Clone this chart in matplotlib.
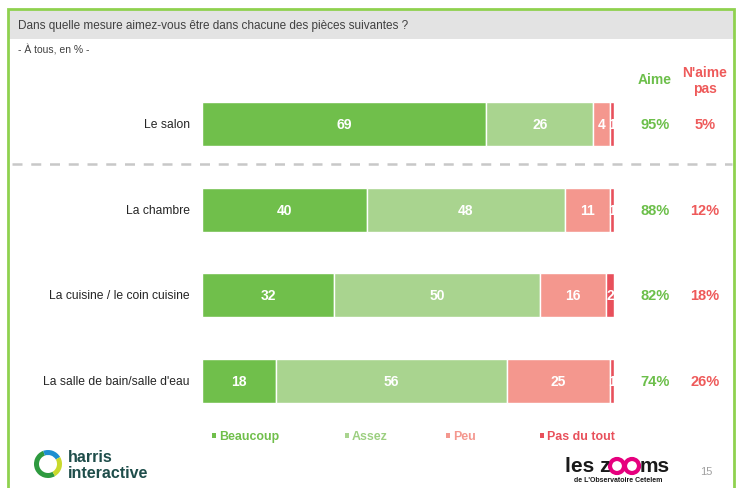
import numpy as np
import matplotlib.pyplot as plt
from matplotlib.patches import Rectangle, Wedge, Ellipse

plt.rcParams['font.family'] = ['Liberation Sans', 'DejaVu Sans']

categories = ['Le salon', 'La chambre', 'La cuisine / le coin cuisine',
              "La salle de bain/salle d'eau"]
beaucoup = [69, 40, 32, 18]
assez = [26, 48, 50, 56]
peu = [4, 11, 16, 25]
pas_du_tout = [1, 1, 2, 1]
aime = [95, 88, 82, 74]
naime_pas = [5, 12, 18, 26]
series_names = ['Beaucoup', 'Assez', 'Peu', 'Pas du tout']

colors = ['#70bf4b', '#a9d48f', '#f4978e', '#e8505b']
green_txt = '#6cbf4a'
red_txt = '#ee5a5a'

W, H = 737, 489
fig = plt.figure(figsize=(W / 100, H / 100), dpi=100)

# background axes in pixel coordinates for the frame and decorations
bg = fig.add_axes([0, 0, 1, 1])
bg.set_xlim(0, W)
bg.set_ylim(H, 0)
bg.axis('off')

bg.add_patch(Rectangle((9, 11), 725, 29, facecolor='#e3e3e3', edgecolor='none'))
bg.plot([8, 8, 734, 734], [H, 9.5, 9.5, H], color='#8fd14f', lw=2, solid_joinstyle='miter')
bg.text(18, 26, 'Dans quelle mesure aimez-vous être dans chacune des pièces suivantes ?',
        fontsize=8.5, color='#404040', va='center', ha='left')
bg.text(18, 50, '- À tous, en % -', fontsize=7.5, color='#404040', va='center', ha='left')

# dashed separator
bg.plot([12, 732], [165, 165], color='#c8c8c8', lw=1.8, dashes=(4, 3.5))

# column headers
bg.text(655, 80, 'Aime', fontsize=10, fontweight='bold', color=green_txt, ha='center', va='center')
bg.text(705, 81, "N'aime\npas", fontsize=10, fontweight='bold', color=red_txt,
        ha='center', va='center', linespacing=1.1)

# main bar axes
x0, x1 = 202, 614
top, bottom = 82, 425
ax = fig.add_axes([x0 / W, 1 - bottom / H, (x1 - x0) / W, (bottom - top) / H])
ax.set_xlim(0, 100)
ax.set_ylim(3.5, -0.5)
ax.axis('off')

ypos = np.arange(len(categories))
data = [beaucoup, assez, peu, pas_du_tout]
left = np.zeros(len(categories))
for vals, col, name in zip(data, colors, series_names):
    bars = ax.barh(ypos, vals, left=left, height=0.515, color=col,
                   edgecolor='white', linewidth=1, label=name)
    for rect, v in zip(bars, vals):
        t = ax.text(rect.get_x() + rect.get_width() / 2, rect.get_y() + rect.get_height() / 2,
                    str(v), color='white', fontsize=10, fontweight='bold',
                    ha='center', va='center')
        t.set_clip_path(rect)
    left += np.array(vals)

for y, cat in zip(ypos, categories):
    ax.text(-3, y, cat, fontsize=8.7, color='#262626', ha='right', va='center')

for y_px, a, n in zip([125, 211, 296, 382], aime, naime_pas):
    bg.text(655, y_px, f'{a}%', fontsize=10.5, fontweight='bold', color=green_txt,
            ha='center', va='center')
    bg.text(705, y_px, f'{n}%', fontsize=10.5, fontweight='bold', color=red_txt,
            ha='center', va='center')

# legend row
leg_x = [212, 345, 446, 540]
for lx, name, col in zip(leg_x, series_names, colors):
    txt_col = col if name != 'Assez' else '#9ccf80'
    bg.add_patch(Rectangle((lx, 434), 4.5, 4.5, facecolor=col, edgecolor='none'))
    bg.text(lx + 7, 437, name, fontsize=8.9, fontweight='bold', color=txt_col,
            ha='left', va='center')

# harris interactive logo
bg.add_patch(Wedge((48, 465), 14, 60, 250, width=5, facecolor='#2e9a3f', edgecolor='none'))
bg.add_patch(Wedge((48, 465), 14, 250, 330, width=5, facecolor='#1d8fd0', edgecolor='none'))
bg.add_patch(Wedge((48, 465), 14, 330, 420, width=5, facecolor='#c9d92c', edgecolor='none'))
bg.text(68, 457, 'harris', fontsize=11.5, fontweight='bold', color='#1e4d4a', ha='left', va='center')
bg.text(68, 474, 'interactive', fontsize=11.5, fontweight='bold', color='#1e4d4a',
        ha='left', va='center')

# les zooms logo
bg.text(565, 466, 'les z', fontsize=15, fontweight='bold', color='#1a1a1a', ha='left', va='center')
for cx in [617, 632]:
    bg.add_patch(Ellipse((cx, 467), 14, 14, facecolor='none', edgecolor='#e6007e', lw=3))
bg.text(640, 466, 'ms', fontsize=15, fontweight='bold', color='#1a1a1a', ha='left', va='center')
bg.text(618, 481, "de L'Observatoire Cetelem", fontsize=5, fontweight='bold', color='#1a1a1a',
        ha='center', va='center')

bg.text(706, 472, '15', fontsize=8, color='#a0a0a0', ha='center', va='center')

fig.savefig('out.png', dpi=100)
